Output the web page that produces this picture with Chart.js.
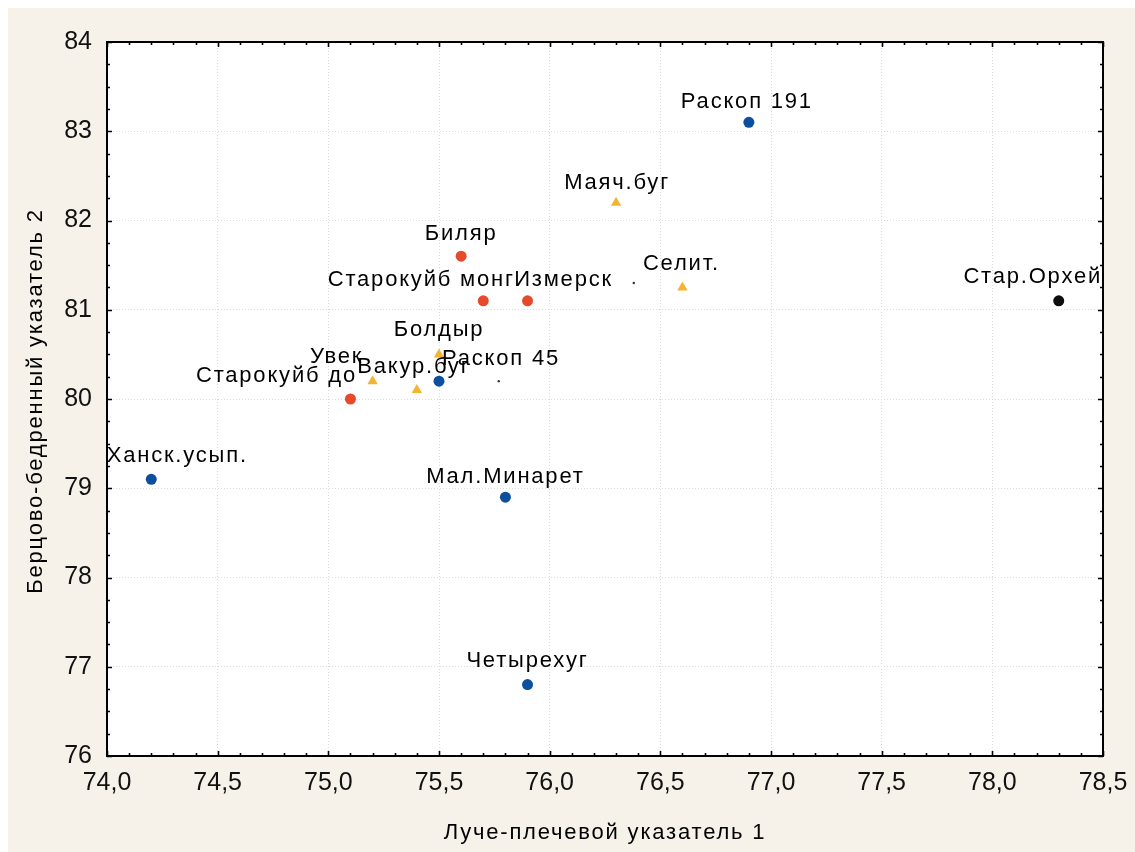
<!DOCTYPE html>
<html lang="ru">
<head>
<meta charset="utf-8">
<script src="https://cdn.jsdelivr.net/npm/chart.js@4.4.1/dist/chart.umd.min.js"></script>
<style>
  html, body { margin: 0; padding: 0; background: #fff; }
  #wrap { width: 1135px; height: 852px; }
</style>
</head>
<body>
<div id="wrap"><canvas id="scatter"></canvas></div>
<script>
// groups of sites: index of radius (x) and of tibia/femur (y)
const blueNames = ["Раскоп 191", "Раскоп 45", "Ханск.усып.", "Мал.Минарет", "Четырехуг"];
const blueX = [76.9, 75.5, 74.2, 75.8, 75.9];
const blueY = [83.1, 80.2, 79.1, 78.9, 76.8];

const redNames = ["Биляр", "Старокуйб монг", "Измерск", "Старокуйб до"];
const redX = [75.6, 75.7, 75.9, 75.1];
const redY = [81.6, 81.1, 81.1, 80.0];

const yellowNames = ["Маяч.буг", "Селит.", "Болдыр", "Увек", "Вакур.буг"];
const yellowX = [76.3, 76.6, 75.5, 75.2, 75.4];
const yellowY = [82.2, 81.25, 80.5, 80.2, 80.1];

const blackNames = ["Стар.Орхей"];
const blackX = [78.3];
const blackY = [81.1];

// two unnamed points drawn as dots
const dotX = [75.77, 76.38];
const dotY = [80.2, 81.3];

const xTicks = [74.0, 74.5, 75.0, 75.5, 76.0, 76.5, 77.0, 77.5, 78.0, 78.5];
const yTicks = [76, 77, 78, 79, 80, 81, 82, 83, 84];

const xTitle = "Луче-плечевой указатель 1";
const yTitle = "Берцово-бедренный указатель 2";

// label offsets in px from the marker (dx, dy to the middle of capitals)
const labelShift = {
  "Раскоп 191": [-2, -22],
  "Раскоп 45": [62, -24],
  "Ханск.усып.": [26, -25],
  "Мал.Минарет": [0, -22],
  "Четырехуг": [0, -26],
  "Биляр": [0, -24],
  "Старокуйб монг": [-62, -23],
  "Измерск": [36, -23],
  "Старокуйб до": [-74, -25],
  "Маяч.буг": [1, -22],
  "Селит.": [-1, -25],
  "Болдыр": [0, -26],
  "Увек": [-36, -26],
  "Вакур.буг": [-3, -25],
  "Стар.Орхей": [-26, -26]
};

const FONT = "'Liberation Sans', Arial, sans-serif";

function points(xs, ys) {
  return xs.map((x, i) => ({ x: x, y: ys[i] }));
}

const decor = {
  id: "decor",
  beforeDraw(chart) {
    const { ctx, width, height, chartArea: a } = chart;
    ctx.save();
    ctx.fillStyle = "#ffffff";
    ctx.fillRect(0, 0, width, height);
    ctx.fillStyle = "#f6f2ea";
    ctx.fillRect(8, 8, width - 8, height - 8);
    ctx.fillStyle = "#ffffff";
    ctx.fillRect(a.left, a.top, a.right - a.left, a.bottom - a.top);
    ctx.restore();
  },
  afterDraw(chart) {
    const { ctx, chartArea: a } = chart;
    const xs = chart.scales.x;
    const ys = chart.scales.y;
    ctx.save();
    ctx.strokeStyle = "#000";
    ctx.lineWidth = 2;
    ctx.strokeRect(a.left, a.top, a.right - a.left, a.bottom - a.top);

    // inward tick marks, minor 0.1 on x and 0.25 on y
    ctx.lineWidth = 1.6;
    ctx.beginPath();
    for (let i = 0; i <= 45; i++) {
      const px = Math.round(xs.getPixelForValue(74 + i / 10)) + 0.5;
      const len = i % 5 === 0 ? 5 : 3;
      ctx.moveTo(px, a.bottom);
      ctx.lineTo(px, a.bottom - len);
      ctx.moveTo(px, a.top);
      ctx.lineTo(px, a.top + len);
    }
    for (let i = 0; i <= 32; i++) {
      const py = Math.round(ys.getPixelForValue(76 + i / 4)) + 0.5;
      const len = i % 4 === 0 ? 5 : 3;
      ctx.moveTo(a.left, py);
      ctx.lineTo(a.left + len, py);
      ctx.moveTo(a.right, py);
      ctx.lineTo(a.right - len, py);
    }
    ctx.stroke();

    // axis titles
    ctx.fillStyle = "#000";
    ctx.font = "22px " + FONT;
    ctx.letterSpacing = "1.8px";
    ctx.textAlign = "center";
    ctx.textBaseline = "alphabetic";
    ctx.fillText(xTitle, (a.left + a.right) / 2, 839);
    ctx.save();
    ctx.translate(42, (a.top + a.bottom) / 2 + 2);
    ctx.rotate(-Math.PI / 2);
    ctx.fillText(yTitle, 0, 0);
    ctx.restore();

    // point names
    chart.data.datasets.forEach((ds, di) => {
      if (!ds.names) return;
      const meta = chart.getDatasetMeta(di);
      meta.data.forEach((el, i) => {
        const name = ds.names[i];
        const s = labelShift[name] || [0, -24];
        ctx.fillText(name, el.x + s[0], el.y + s[1] + 8);
      });
    });
    ctx.restore();
  }
};

new Chart(document.getElementById("scatter"), {
  type: "scatter",
  data: {
    datasets: [
      {
        names: blueNames,
        data: points(blueX, blueY),
        pointStyle: "circle",
        pointRadius: 5.5,
        backgroundColor: "#0c4f9f",
        borderWidth: 0
      },
      {
        names: redNames,
        data: points(redX, redY),
        pointStyle: "circle",
        pointRadius: 5.5,
        backgroundColor: "#e6492b",
        borderWidth: 0
      },
      {
        names: yellowNames,
        data: points(yellowX, yellowY),
        pointStyle: "triangle",
        pointRadius: 6,
        backgroundColor: "#f4b431",
        borderWidth: 0
      },
      {
        names: blackNames,
        data: points(blackX, blackY),
        pointStyle: "circle",
        pointRadius: 5.5,
        backgroundColor: "#0d0d0d",
        borderWidth: 0
      },
      {
        data: points(dotX, dotY),
        pointStyle: "circle",
        pointRadius: 1.2,
        backgroundColor: "#333",
        borderWidth: 0
      }
    ]
  },
  options: {
    responsive: true,
    maintainAspectRatio: false,
    animation: false,
    layout: { padding: { top: 42, right: 32, bottom: 0, left: 0 } },
    plugins: {
      legend: { display: false },
      tooltip: { enabled: false }
    },
    scales: {
      x: {
        type: "linear",
        min: xTicks[0],
        max: xTicks[xTicks.length - 1],
        afterBuildTicks: (scale) => {
          scale.ticks = xTicks.map((v) => ({ value: v }));
        },
        afterFit: (scale) => {
          scale.height = 96;
          scale.paddingLeft = 0;
          scale.paddingRight = 0;
        },
        grid: { color: "#dcdcdc", lineWidth: 1, drawTicks: false },
        border: { display: false, dash: [1, 2] },
        ticks: {
          font: { family: FONT, size: 25 },
          color: "#111",
          padding: 12,
          maxRotation: 0,
          callback: (v) => v.toFixed(1).replace(".", ",")
        }
      },
      y: {
        type: "linear",
        min: yTicks[0],
        max: yTicks[yTicks.length - 1],
        afterBuildTicks: (scale) => {
          scale.ticks = yTicks.map((v) => ({ value: v }));
        },
        afterFit: (scale) => {
          scale.width = 107;
          scale.paddingTop = 0;
          scale.paddingBottom = 0;
        },
        grid: { color: "#dcdcdc", lineWidth: 1, drawTicks: false },
        border: { display: false, dash: [1, 2] },
        ticks: {
          font: { family: FONT, size: 25 },
          color: "#111",
          padding: 15,
          callback: (v) => String(v)
        }
      }
    }
  },
  plugins: [decor]
});
</script>
</body>
</html>
